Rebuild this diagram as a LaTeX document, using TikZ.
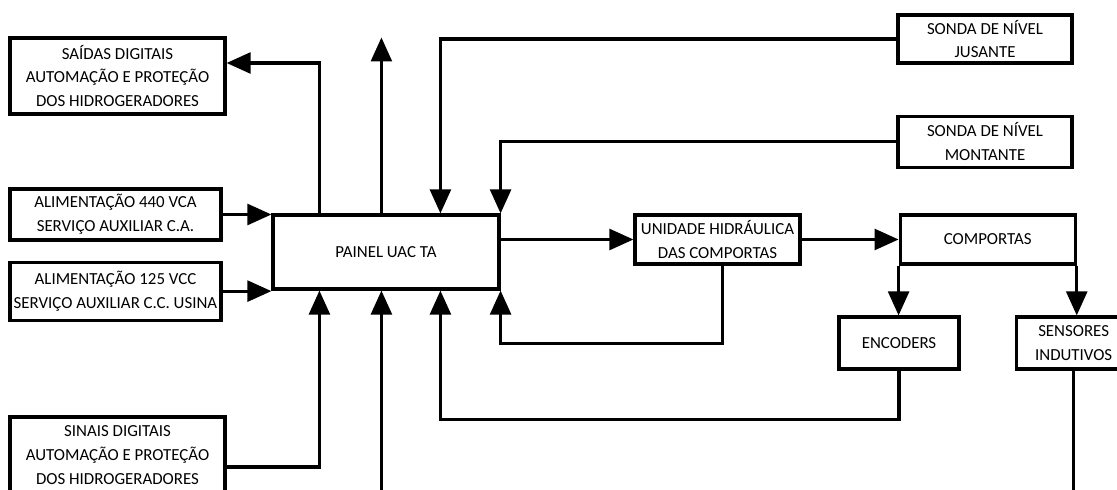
\documentclass[tikz,border=0pt]{standalone}
\usepackage{fontspec}
\setmainfont{Carlito}
\usetikzlibrary{arrows.meta, positioning, calc}

\begin{document}
\begin{tikzpicture}[
		x=0.025cm, y=-0.025cm,
		node distance = 1cm,
		>={Triangle[length=0.6cm, width=0.52cm]},
		block/.style = {draw, rectangle, line width=2.2pt, align=center, inner sep=1pt, font=\fontsize{12}{17}\selectfont},
		flow/.style = {->, line width=2.2pt},
		wire/.style = {line width=2.2pt}
		]
		\useasboundingbox (0,0) rectangle (1117,490);
		\clip (0,0) rectangle (1117,490);
		
		\node [block, minimum width=5.375cm, minimum height=1.9cm] (saidas) at (117.5,76) {SAÍDAS DIGITAIS\\AUTOMAÇÃO E PROTEÇÃO\\DOS HIDROGERADORES};
		\node [block, minimum width=5.275cm, minimum height=1.275cm] (alim440) at (115.5,214.5) {ALIMENTAÇÃO 440 VCA\\SERVIÇO AUXILIAR C.A.};
		\node [block, minimum width=5.275cm, minimum height=1.45cm, below=0.475cm of alim440] (alim125) {ALIMENTAÇÃO 125 VCC\\SERVIÇO AUXILIAR C.C. USINA};
		\node [block, minimum width=5.375cm, minimum height=1.9cm] (sinais) at (117.5,455) {SINAIS DIGITAIS\\AUTOMAÇÃO E PROTEÇÃO\\DOS HIDROGERADORES};
		\node [block, minimum width=5.65cm, minimum height=1.85cm] (painel) at (386,252) {PAINEL UAC TA};
		
		\node [block, minimum width=4.35cm, minimum height=1.2cm] (jusante) at (985,39) {SONDA DE NÍVEL\\JUSANTE};
		\node [block, minimum width=4.35cm, minimum height=1.275cm, below=1.25cm of jusante] (montante) {SONDA DE NÍVEL\\MONTANTE};
		
		\node [block, minimum width=4.125cm, minimum height=1.225cm] (unidade) at (717.5,239.5) {UNIDADE HIDRÁULICA\\DAS COMPORTAS};
		\node [block, minimum width=4.375cm, minimum height=1.225cm, right=2.425cm of unidade] (comportas) {COMPORTAS};
		\node [block, minimum width=3cm, minimum height=1.3cm] (encoders) at (899,343) {ENCODERS};
		\node [block, minimum width=2.875cm, minimum height=1.3cm, right=1.35cm of encoders] (sensores) {SENSORES\\INDUTIVOS};
		
		\coordinate (topout) at ($(painel.north west)+(110,-176)$);
		\coordinate (botin) at ($(painel.south west)+(110,220)$);
		\coordinate (sensout) at ($(sensores.south)+(0,140)$);
		
		% entradas e saidas do painel
		\draw [flow] ($(painel.north west)+(48,0)$) |- ($(saidas.east)+(0,-13)$);
		\draw [flow] ($(painel.north west)+(110,0)$) -- (topout);
		\draw [flow] (jusante.west) -| ($(painel.north west)+(169,0)$);
		\draw [flow] (montante.west) -| (painel.north east);
		\draw [flow] (alim440.east) -- (alim440.east -| painel.west);
		\draw [flow] (alim125.east) -- (alim125.east -| painel.west);
		\draw [flow] ($(sinais.east)+(0,12)$) -| ($(painel.south west)+(48,0)$);
		\draw [flow] (botin) -- ($(painel.south west)+(110,0)$);
		\draw [flow] (encoders.south) -- ++(0,49) -| ($(painel.south west)+(169,0)$);
		\draw [flow] ($(unidade.south)+(5,0)$) -- ++(0,78) -| (painel.south east);
		
		% comportas
		\draw [flow] (painel.east |- unidade.west) -- (unidade.west);
		\draw [flow] (unidade.east) -- (comportas.west);
		\draw [flow] (comportas.south west) -- (comportas.south west |- encoders.north);
		\draw [flow] (comportas.south east) -- (comportas.south east |- sensores.north);
		\draw [wire] (sensores.south) -- (sensout);
		
	\end{tikzpicture}
\end{document}
